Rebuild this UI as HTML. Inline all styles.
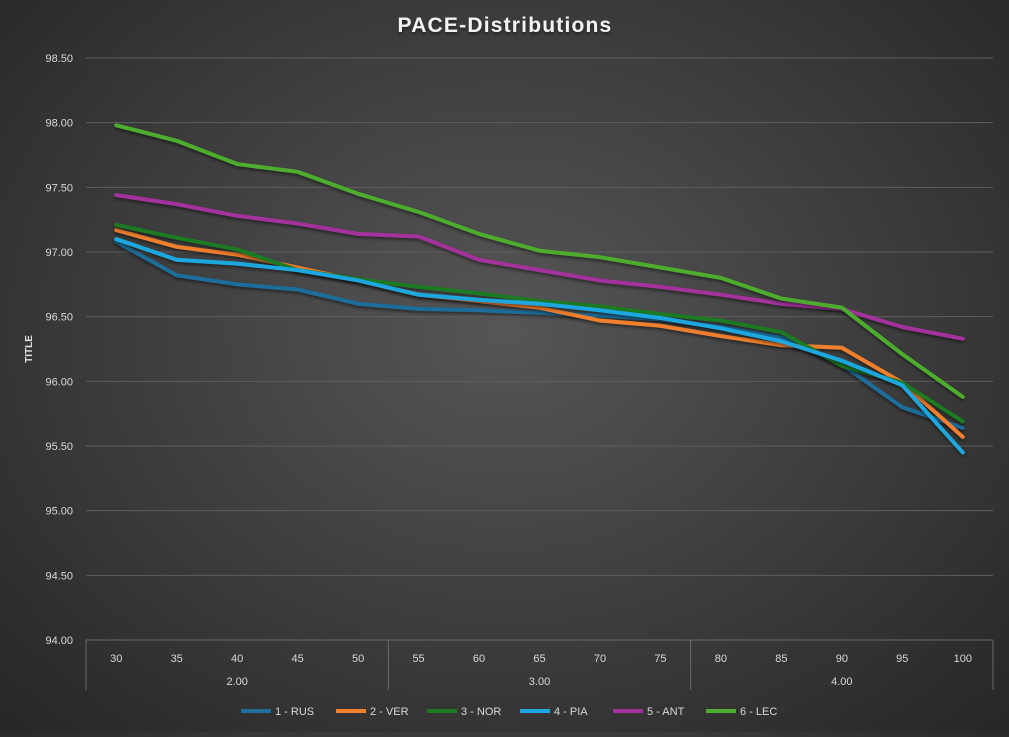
<!DOCTYPE html>
<html><head><meta charset="utf-8"><style>
html,body{margin:0;padding:0;}
body{width:1009px;height:732px;overflow:hidden;background:radial-gradient(ellipse at 50% 45%,#565656 0%,#3e3e3e 50%,#262626 100%);font-family:"Liberation Sans",sans-serif;}
</style></head><body>
<svg id="chart" width="1009" height="732" xmlns="http://www.w3.org/2000/svg">
<defs><filter id="sh" x="-5%" y="-5%" width="110%" height="110%"><feDropShadow dx="0" dy="2" stdDeviation="1.5" flood-color="#000" flood-opacity="0.5"/></filter></defs>
<text x="505" y="32" text-anchor="middle" fill="#f2f2f2" font-size="21" font-weight="bold" letter-spacing="1.2" filter="url(#sh)">PACE-Distributions</text>
<text transform="translate(32,349) rotate(-90)" text-anchor="middle" fill="#e0e0e0" font-size="10" font-weight="bold">TITLE</text>
<g id="grid"></g><g id="yticks"></g><g id="xaxis"></g><g id="series"></g><g id="legend"></g>
</svg>
<script>
const categories=[30,35,40,45,50,55,60,65,70,75,80,85,90,95,100];
const groups=["2.00","3.00","4.00"];
const groupSizes=[5,5,5];
const yTicks=[94,94.5,95,95.5,96,96.5,97,97.5,98,98.5];
const seriesNames=["1 - RUS","2 - VER","3 - NOR","4 - PIA","5 - ANT","6 - LEC"];
const seriesColors=["#1f6d9a","#f07f2e","#1c7a22","#1ea8df","#a3309b","#4eac2e"];
const rus=[97.08,96.82,96.75,96.71,96.60,96.56,96.55,96.53,96.51,96.48,96.42,96.34,96.13,95.80,95.64];
const ver=[97.17,97.04,96.98,96.88,96.78,96.67,96.62,96.57,96.47,96.43,96.35,96.28,96.26,95.99,95.57];
const nor=[97.21,97.11,97.02,96.86,96.79,96.73,96.68,96.62,96.58,96.52,96.47,96.38,96.12,95.99,95.69];
const pia=[97.10,96.94,96.91,96.86,96.78,96.67,96.63,96.60,96.55,96.49,96.41,96.31,96.16,95.97,95.45];
const ant=[97.44,97.37,97.28,97.22,97.14,97.12,96.94,96.86,96.78,96.73,96.67,96.60,96.56,96.42,96.33];
const lec=[97.98,97.86,97.68,97.62,97.45,97.31,97.14,97.01,96.96,96.88,96.80,96.64,96.57,96.21,95.88];
const seriesData=[rus,ver,nor,pia,ant,lec];

const NS="http://www.w3.org/2000/svg";
const L=86,R=993,T=58,B=640,yMin=94,yMax=98.5;
const slot=(R-L)/categories.length;
const X=i=>L+slot*(i+0.5);
const Y=v=>B-(v-yMin)/(yMax-yMin)*(B-T);
function mk(tag,attrs,parent){const e=document.createElementNS(NS,tag);for(const k in attrs)e.setAttribute(k,attrs[k]);parent.appendChild(e);return e;}
const grid=document.getElementById('grid'),yt=document.getElementById('yticks'),xa=document.getElementById('xaxis'),sg=document.getElementById('series'),lg=document.getElementById('legend');
yTicks.forEach(v=>{
  if(v>yMin){const g=mk('line',{x1:L,x2:R,y1:Y(v),y2:Y(v),stroke:'#5e5e5e','stroke-width':1},grid);
  
  }
  const t=mk('text',{x:73,y:Y(v)+4,'text-anchor':'end',fill:'#d9d9d9','font-size':11},yt);
  t.textContent=v.toFixed(2);
  
  
});
mk('line',{x1:L,x2:R,y1:B,y2:B,stroke:'#6a6a6a'},xa);
categories.forEach((c,i)=>{
  const t=mk('text',{x:X(i),y:662,'text-anchor':'middle',fill:'#d9d9d9','font-size':11},xa);
  t.textContent=c;
  
  
});
let start=0;
mk('line',{x1:L,x2:L,y1:B,y2:690,stroke:'#6a6a6a'},xa);
groups.forEach((g,gi)=>{
  const n=groupSizes[gi];const x0=L+slot*start,x1=L+slot*(start+n);
  mk('line',{x1:x1,x2:x1,y1:B,y2:690,stroke:'#6a6a6a'},xa);
  const t=mk('text',{x:(x0+x1)/2,y:685,'text-anchor':'middle',fill:'#d9d9d9','font-size':11},xa);
  t.textContent=g;
  
  
  start+=n;
});
seriesData.forEach((d,si)=>{
  const p=mk('polyline',{points:d.map((v,i)=>X(i)+','+Y(v)).join(' '),fill:'none',stroke:seriesColors[si],'stroke-width':4,'stroke-linejoin':'round','stroke-linecap':'round',filter:'url(#sh)'},sg);
  
  
});
const lx=[241,336,427,520,613,706];
seriesNames.forEach((n,si)=>{
  const g=mk('g',{},lg);
  
  
  mk('line',{x1:lx[si],x2:lx[si]+30,y1:711,y2:711,stroke:seriesColors[si],'stroke-width':4},g);
  const t=mk('text',{x:lx[si]+34,y:715,fill:'#d9d9d9','font-size':11},g);
  t.textContent=n;
});
</script>
</body></html>
